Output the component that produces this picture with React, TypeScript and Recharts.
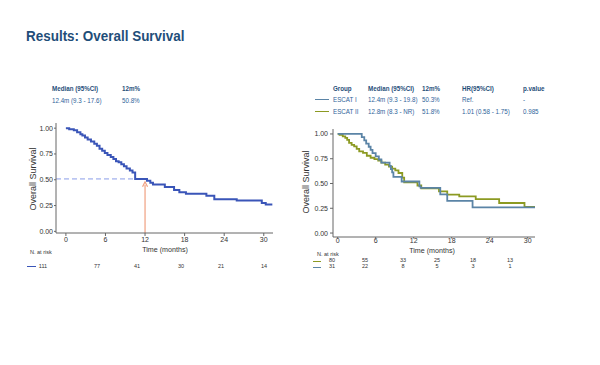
import React from "react";
import { LineChart, Line, XAxis, YAxis, ReferenceLine } from "recharts";

// Overall (all patients)
const overallTime = [0, 0.5, 1.2, 1.7, 2.2, 2.5, 2.9, 3.3, 3.8, 4.3, 4.7, 5.1, 5.5, 5.9, 6.3, 6.8, 7.2, 7.6, 8.0, 8.4, 8.8, 9.2, 9.7, 10.1, 10.5, 12.3, 12.8, 13.2, 15.0, 16.4, 17.2, 18.2, 21.3, 22.5, 25.9, 29.7, 30.3, 31.3];
const overallSurv = [1.0, 0.99, 0.98, 0.96, 0.94, 0.93, 0.91, 0.89, 0.87, 0.85, 0.83, 0.8, 0.78, 0.76, 0.74, 0.72, 0.7, 0.68, 0.67, 0.65, 0.63, 0.61, 0.59, 0.57, 0.508, 0.49, 0.47, 0.455, 0.43, 0.4, 0.38, 0.365, 0.345, 0.31, 0.3, 0.275, 0.26, 0.26];

// ESCAT I
const escat1Time = [0, 3.8, 4.2, 4.5, 4.9, 5.2, 5.5, 6.0, 6.5, 6.9, 8.2, 8.4, 8.6, 8.8, 10.1, 12.9, 13.1, 16.2, 17.3, 21.3, 31.2];
const escat1Surv = [1.0, 0.968, 0.935, 0.903, 0.871, 0.839, 0.806, 0.774, 0.742, 0.71, 0.677, 0.645, 0.613, 0.566, 0.52, 0.47, 0.455, 0.39, 0.325, 0.26, 0.26];

// ESCAT II
const escat2Time = [0, 0.3, 0.8, 1.2, 1.5, 1.8, 2.2, 2.6, 3.0, 3.4, 4.0, 4.6, 5.2, 5.8, 6.4, 6.9, 7.5, 8.1, 8.6, 9.1, 9.6, 10.2, 10.5, 12.6, 13.2, 16.0, 17.3, 19.2, 21.8, 25.5, 29.5, 31.2];
const escat2Surv = [1.0, 0.99, 0.975, 0.96, 0.94, 0.91, 0.89, 0.875, 0.85, 0.825, 0.81, 0.78, 0.76, 0.745, 0.73, 0.71, 0.69, 0.67, 0.65, 0.633, 0.606, 0.56, 0.512, 0.48, 0.45, 0.42, 0.387, 0.37, 0.343, 0.303, 0.263, 0.263];

const timeTicks = [0, 6, 12, 18, 24, 30];
const survTicks = [0, 0.25, 0.5, 0.75, 1];

const overallAtRisk = ["111", "77", "41", "30", "21", "14"];
const escat1AtRisk = ["31", "22", "8", "5", "3", "1"];
const escat2AtRisk = ["80", "55", "33", "25", "18", "13"];

const medianSurv = 0.508;
const medianCross = 10.5;
const landmark = 12;

const toRows = (t: number[], s: number[]) => t.map((x, i) => ({ t: x, s: s[i] }));
const overallData = toRows(overallTime, overallSurv);
const escat1Data = toRows(escat1Time, escat1Surv);
const escat2Data = toRows(escat2Time, escat2Surv);

const NAVY = "#1f4e79";
const VALUE = "#2f639a";
const AXIS = "#666";
const TICK = "#333";
const OVERALL = "#3a55b8";
const ESCAT1 = "#5b84a6";
const ESCAT2 = "#8c9a22";
const ARROW = "#f0a080";
const FONT = "'Liberation Sans', Arial, sans-serif";

const riskLeftX = [43, 97, 137, 181, 221, 264];
const riskRightX = [332, 365, 403, 437, 473, 510];

// condensed look: the narrow face is not installed, so squeeze the regular one
function Txt({ x, y, children, size = 7.5, bold = false, color = NAVY, center = false, squeeze = 0.83 }: any) {
  return (
    <div
      style={{
        position: "absolute",
        left: x,
        top: y,
        transform: center ? `translate(-50%, -50%) scaleX(${squeeze})` : `translateY(-50%) scaleX(${squeeze})`,
        transformOrigin: center ? "center center" : "left center",
        fontSize: size,
        fontWeight: bold ? 700 : 400,
        color,
        fontFamily: FONT,
        whiteSpace: "nowrap",
        lineHeight: 1,
      }}
    >
      {children}
    </div>
  );
}

function YLabel({ x, y }: { x: number; y: number }) {
  return (
    <div
      style={{
        position: "absolute",
        left: x,
        top: y,
        transform: "translate(-50%, -50%) rotate(-90deg)",
        fontSize: 9,
        color: TICK,
        fontFamily: FONT,
        whiteSpace: "nowrap",
        lineHeight: 1,
      }}
    >
      Overall Survival
    </div>
  );
}

function Arrow(props: any) {
  const { x1, y1, x2, y2 } = props;
  const top = Math.min(y1, y2);
  const bottom = Math.max(y1, y2);
  return (
    <g>
      <line x1={x1} y1={bottom} x2={x2} y2={top + 3} stroke={ARROW} strokeWidth={1.2} />
      <path d={`M${x1 - 2.5},${top + 5} L${x1},${top} L${x1 + 2.5},${top + 5}`} fill="none" stroke={ARROW} strokeWidth={1.2} />
    </g>
  );
}

const tickStyle = { fontSize: 7, fill: TICK, fontFamily: FONT };

export default function App() {
  return (
    <div style={{ position: "absolute", left: 0, top: 0, width: 600, height: 365, background: "#fff", fontFamily: FONT }}>
      <Txt x={26} y={36} size={15.5} bold squeeze={0.868}>Results: Overall Survival</Txt>

      {/* left table */}
      <Txt x={52} y={89} bold>Median (95%CI)</Txt>
      <Txt x={122} y={89} bold>12m%</Txt>
      <Txt x={52} y={100.5} color={VALUE}>12.4m (9.3 - 17.6)</Txt>
      <Txt x={122} y={100.5} color={VALUE}>50.8%</Txt>

      {/* right table */}
      <Txt x={333} y={88.5} bold>Group</Txt>
      <Txt x={368} y={88.5} bold>Median (95%CI)</Txt>
      <Txt x={422} y={88.5} bold>12m%</Txt>
      <Txt x={462} y={88.5} bold>HR(95%CI)</Txt>
      <Txt x={523} y={88.5} bold>p.value</Txt>
      <div style={{ position: "absolute", left: 315, top: 99, width: 14, height: 1.2, background: ESCAT1 }} />
      <Txt x={333} y={99.5} color={VALUE}>ESCAT I</Txt>
      <Txt x={368} y={99.5} color={VALUE}>12.4m (9.3 - 19.8)</Txt>
      <Txt x={422} y={99.5} color={VALUE}>50.3%</Txt>
      <Txt x={462} y={99.5} color={VALUE}>Ref.</Txt>
      <Txt x={523} y={99.5} color={VALUE}>-</Txt>
      <div style={{ position: "absolute", left: 315, top: 111, width: 14, height: 1.2, background: ESCAT2 }} />
      <Txt x={333} y={111.5} color={VALUE}>ESCAT II</Txt>
      <Txt x={368} y={111.5} color={VALUE}>12.8m (8.3 - NR)</Txt>
      <Txt x={422} y={111.5} color={VALUE}>51.8%</Txt>
      <Txt x={462} y={111.5} color={VALUE}>1.01 (0.58 - 1.75)</Txt>
      <Txt x={523} y={111.5} color={VALUE}>0.985</Txt>

      {/* left chart */}
      <div style={{ position: "absolute", left: 0, top: 100 }}>
        <LineChart width={290} height={160} margin={{ top: 23, right: 17, left: 0, bottom: 0 }}>
          <XAxis
            type="number"
            dataKey="t"
            domain={[-1.5, 31.4]}
            ticks={timeTicks}
            allowDataOverflow
            height={27}
            tick={tickStyle}
            tickSize={3}
            tickMargin={1}
            stroke={AXIS}
          />
          <YAxis
            type="number"
            dataKey="s"
            domain={[-0.016, 1.05]}
            ticks={survTicks}
            allowDataOverflow
            width={56}
            tick={tickStyle}
            tickSize={2}
            tickMargin={1}
            tickFormatter={(v: number) => v.toFixed(2)}
            stroke={AXIS}
          />
          <ReferenceLine
            segment={[{ x: -1.5, y: medianSurv }, { x: medianCross, y: medianSurv }]}
            stroke="#8a9de8"
            strokeDasharray="5 3"
            strokeWidth={1}
          />
          <ReferenceLine
            segment={[{ x: landmark, y: -0.016 }, { x: landmark, y: 0.48 }]}
            shape={Arrow}
          />
          <Line
            data={overallData}
            dataKey="s"
            type="stepAfter"
            stroke={OVERALL}
            strokeWidth={2}
            dot={false}
            isAnimationActive={false}
          />
        </LineChart>
      </div>
      <YLabel x={33} y={179} />
      <Txt x={165} y={250} size={7.5} color={TICK} center squeeze={0.95}>Time (months)</Txt>
      <Txt x={30} y={252.5} size={5.5} color={TICK} squeeze={1}>N. at risk</Txt>
      <div style={{ position: "absolute", left: 27, top: 265.5, width: 9, height: 1.2, background: OVERALL }} />
      {overallAtRisk.map((n, i) => (
        <Txt key={i} x={riskLeftX[i]} y={266.5} size={5.5} color={TICK} center squeeze={1}>{n}</Txt>
      ))}

      {/* right chart */}
      <div style={{ position: "absolute", left: 300, top: 100 }}>
        <LineChart width={250} height={160} margin={{ top: 29, right: 15, left: 0, bottom: 0 }}>
          <XAxis
            type="number"
            dataKey="t"
            domain={[-0.74, 31.16]}
            ticks={timeTicks}
            allowDataOverflow
            height={23}
            tick={tickStyle}
            tickSize={1.5}
            tickMargin={0}
            stroke={AXIS}
          />
          <YAxis
            type="number"
            dataKey="s"
            domain={[-0.04, 1.05]}
            ticks={survTicks}
            allowDataOverflow
            width={33}
            tick={tickStyle}
            tickSize={3}
            tickMargin={2}
            tickFormatter={(v: number) => v.toFixed(2)}
            stroke={AXIS}
          />
          <Line
            data={escat2Data}
            dataKey="s"
            type="stepAfter"
            stroke={ESCAT2}
            strokeWidth={1.8}
            dot={false}
            isAnimationActive={false}
          />
          <Line
            data={escat1Data}
            dataKey="s"
            type="stepAfter"
            stroke={ESCAT1}
            strokeWidth={1.8}
            dot={false}
            isAnimationActive={false}
          />
        </LineChart>
      </div>
      <YLabel x={306} y={182} />
      <Txt x={432} y={251} size={7.5} color={TICK} center squeeze={0.95}>Time (months)</Txt>
      <Txt x={317} y={255} size={5.5} color={TICK} squeeze={1}>N. at risk</Txt>
      <div style={{ position: "absolute", left: 313, top: 260.5, width: 8, height: 1.2, background: ESCAT2 }} />
      <div style={{ position: "absolute", left: 313, top: 266.5, width: 8, height: 1.2, background: ESCAT1 }} />
      {escat2AtRisk.map((n, i) => (
        <Txt key={"a" + i} x={riskRightX[i]} y={261.2} size={5.5} color={TICK} center squeeze={1}>{n}</Txt>
      ))}
      {escat1AtRisk.map((n, i) => (
        <Txt key={"b" + i} x={riskRightX[i]} y={267.2} size={5.5} color={TICK} center squeeze={1}>{n}</Txt>
      ))}
    </div>
  );
}
